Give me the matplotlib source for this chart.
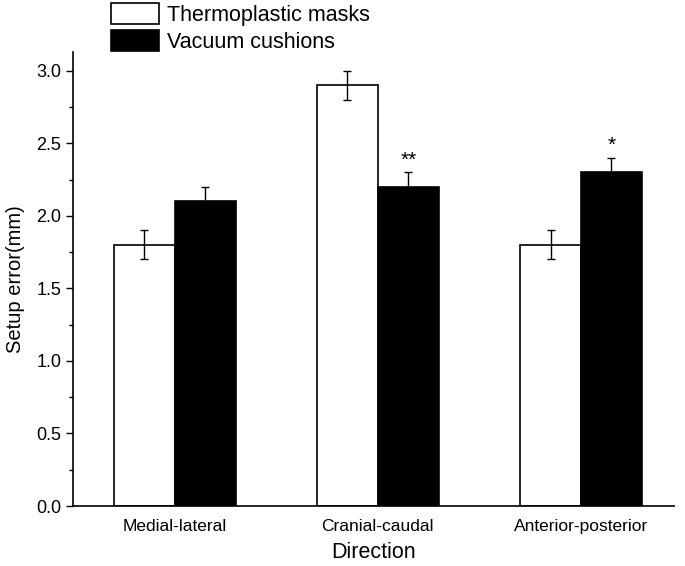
import matplotlib
matplotlib.use('Agg')
import matplotlib.pyplot as plt
import numpy as np
from matplotlib.ticker import MultipleLocator

plt.rcParams['font.family'] = ['Liberation Sans', 'DejaVu Sans']

directions = ['Medial-lateral', 'Cranial-caudal', 'Anterior-posterior']
masks = [1.8, 2.9, 1.8]
masks_err = [0.1, 0.1, 0.1]
cushions = [2.1, 2.2, 2.3]
cushions_err = [0.1, 0.1, 0.1]
stars = ['', '**', '*']

fig = plt.figure(figsize=(6.85, 5.66), dpi=100)
ax = fig.add_axes([0.1066, 0.106, 0.878, 0.802])

x = np.arange(len(directions))
w = 0.3
ax.bar(x - w / 2, masks, w, color='white', edgecolor='black', lw=1.2,
       label='Thermoplastic masks')
ax.bar(x + w / 2, cushions, w, color='black', edgecolor='black', lw=1.2,
       label='Vacuum cushions')
ax.errorbar(x - w / 2, masks, yerr=masks_err, fmt='none', ecolor='black',
            elinewidth=1, capsize=3, capthick=1)
ax.errorbar(x + w / 2, cushions, yerr=cushions_err, fmt='none', ecolor='black',
            elinewidth=1, capsize=3, capthick=1)

for xi, v, e, s in zip(x, cushions, cushions_err, stars):
    if s:
        ax.text(xi + w / 2, v + e + 0.02, s, ha='center', va='bottom',
                fontsize=15)

ax.set_xlim(-0.5, 2.46)
ax.set_ylim(0, 3.13)
ax.set_xticks(x)
ax.set_xticklabels(directions, fontsize=12.5)
ax.tick_params(axis='x', length=0, pad=9)
ax.yaxis.set_major_locator(MultipleLocator(0.5))
ax.yaxis.set_minor_locator(MultipleLocator(0.25))
ax.tick_params(axis='y', which='major', length=5, width=1, labelsize=13)
ax.tick_params(axis='y', which='minor', length=3, width=1)
ax.yaxis.set_major_formatter(matplotlib.ticker.FormatStrFormatter('%.1f'))

ax.spines['right'].set_visible(False)
ax.spines['top'].set_visible(False)
ax.spines['left'].set_linewidth(1.2)
ax.spines['bottom'].set_linewidth(1.2)

ax.set_xlabel('Direction', fontsize=15.5, labelpad=6)
ax.set_ylabel('Setup error(mm)', fontsize=14.5, labelpad=8)

fig.legend(loc='upper left', bbox_to_anchor=(0.158, 1.0), frameon=False,
           fontsize=15.5, handlelength=2.2, handleheight=1.1,
           labelspacing=0.2, handletextpad=0.4, borderaxespad=0,
           borderpad=0.15)

plt.savefig('out.png', dpi=100)
